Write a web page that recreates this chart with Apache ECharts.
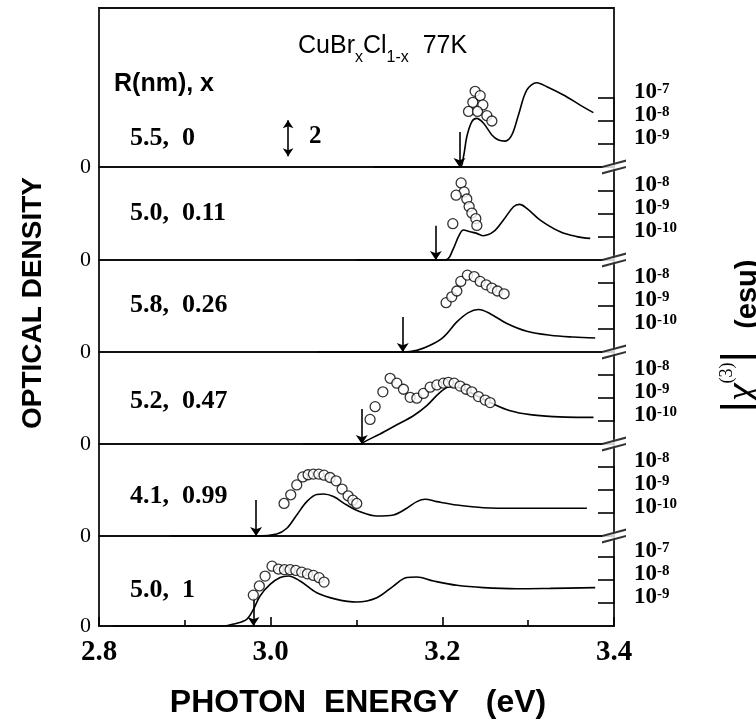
<!DOCTYPE html>
<html><head><meta charset="utf-8">
<script src="https://cdn.jsdelivr.net/npm/echarts@6/dist/echarts.min.js"></script>
<style>html,body{margin:0;padding:0;background:#fff}#c{width:756px;height:723px}</style>
</head><body><div id="c"></div>
<script>
// ---------- DATA ----------
const panelLabels = ['5.5,  0', '5.0,  0.11', '5.8,  0.26', '5.2,  0.47', '4.1,  0.99', '5.0,  1'];
const xTickLabels = [2.8, 3.0, 3.2, 3.4];
// chi(3) axis decades per panel [low exponent, high exponent]
const chiDecades = [[-9, -7], [-10, -8], [-10, -8], [-10, -8], [-10, -8], [-9, -7]];

// optical density curves [photon energy (eV), OD]
const od1 = [[3.120,0],[3.220,0],[3.2246,0.57],[3.2285,1.68],[3.2344,2.52],[3.240,2.70],[3.248,2.43],[3.2577,1.78],[3.2654,1.50],[3.2732,1.44],[3.281,1.78],[3.2887,2.89],[3.2985,4.28],[3.310,4.68],[3.3218,4.46],[3.3411,4.00],[3.3606,3.44],[3.376,3.02]];
const od2 = [[3.100,0],[3.1924,0],[3.2052,0.03],[3.213,0.65],[3.2188,1.30],[3.2246,1.67],[3.2324,1.57],[3.2401,1.48],[3.2479,1.35],[3.2596,1.57],[3.2712,2.22],[3.2829,2.96],[3.2899,3.09],[3.2984,2.87],[3.314,2.22],[3.3373,1.57],[3.3567,1.30],[3.3723,1.20]];
const od3 = [[3.0556,0],[3.1539,0],[3.1703,0.09],[3.1858,0.37],[3.2013,0.83],[3.2169,1.67],[3.2304,2.19],[3.2421,2.36],[3.2557,2.13],[3.2752,1.58],[3.2984,1.15],[3.3256,0.93],[3.3528,0.83],[3.3781,0.78]];
const od4 = [[3.0381,0],[3.1062,0],[3.108,0.09],[3.1275,0.56],[3.147,1.07],[3.1663,1.57],[3.1819,2.13],[3.1974,2.87],[3.2091,3.18],[3.2207,3.11],[3.2363,2.78],[3.2596,2.22],[3.279,1.85],[3.3023,1.63],[3.3295,1.52],[3.3567,1.48],[3.3761,1.48]];
const od5 = [[2.883,0],[2.983,0],[3.0071,0.11],[3.0188,0.43],[3.0304,1.17],[3.0421,1.91],[3.0537,2.31],[3.0615,2.33],[3.0731,2.19],[3.0887,1.72],[3.1042,1.35],[3.1237,1.11],[3.143,1.17],[3.1586,1.54],[3.1703,1.91],[3.18,2.04],[3.1936,1.91],[3.2169,1.72],[3.2479,1.57],[3.2868,1.54],[3.3256,1.54],[3.3684,1.54]];
const od6 = [[2.816,0],[2.945,0],[2.9585,0.13],[2.972,0.37],[2.98,0.93],[2.9876,1.67],[2.9993,2.31],[3.011,2.69],[3.0206,2.78],[3.0343,2.50],[3.0537,1.85],[3.077,1.48],[3.1003,1.33],[3.1237,1.57],[3.143,2.22],[3.1586,2.69],[3.1703,2.72],[3.1897,2.50],[3.2169,2.26],[3.2479,2.13],[3.2868,2.07],[3.3256,2.09],[3.3781,2.13]];

// |chi(3)| (esu) points [photon energy (eV), value]
const chi1 = [[3.2382,1.95e-7],[3.2441,1.26e-7],[3.2355,6.5e-8],[3.2472,5.0e-8],[3.2305,2.6e-8],[3.2410,2.6e-8],[3.2519,1.7e-8],[3.2577,1.0e-8]];
const chi2 = [[3.2219,2.24e-8],[3.2254,9.1e-9],[3.2160,6.6e-9],[3.2285,4.5e-9],[3.2312,2.1e-9],[3.2344,1.1e-9],[3.2390,6.3e-10],[3.2402,3.2e-10],[3.2122,3.8e-10]];
const chi3 = [[3.2044,1.4e-9],[3.2110,2.5e-9],[3.2169,4.5e-9],[3.2215,1.17e-8],[3.2292,2.2e-8],[3.2371,1.9e-8],[3.2441,1.17e-8],[3.2511,8.3e-9],[3.2577,6.0e-9],[3.2642,4.5e-9],[3.2720,3.4e-9]];
const chi4 = [[3.1158,1.17e-10],[3.1217,4.2e-10],[3.1307,1.86e-9],[3.1392,7.2e-9],[3.1470,4.4e-9],[3.1547,2.4e-9],[3.1625,1.07e-9],[3.1703,9.8e-10],[3.1780,1.58e-9],[3.1858,2.95e-9],[3.1936,3.7e-9],[3.2013,4.4e-9],[3.2071,4.8e-9],[3.2138,4.4e-9],[3.2207,3.3e-9],[3.2277,2.4e-9],[3.2344,1.86e-9],[3.2421,1.15e-9],[3.2499,8.1e-10],[3.2557,6.3e-10]];
const chi5 = [[3.0156,2.6e-10],[3.0234,6.2e-10],[3.0304,1.66e-9],[3.0374,3.7e-9],[3.0436,4.6e-9],[3.0498,4.9e-9],[3.0561,4.9e-9],[3.0622,4.4e-9],[3.0692,3.5e-9],[3.0762,2.5e-9],[3.0832,1.1e-9],[3.0902,5.6e-10],[3.0957,3.6e-10],[3.1003,2.6e-10]];
const chi6 = [[2.9798,2.2e-9],[2.9868,5.5e-9],[2.9935,1.48e-8],[3.0016,4.0e-8],[3.0090,3.0e-8],[3.0160,2.8e-8],[3.0226,2.8e-8],[3.0293,2.6e-8],[3.0362,2.2e-8],[3.0428,1.86e-8],[3.0498,1.58e-8],[3.0564,1.26e-8],[3.0622,8.1e-9]];

// downward arrows: energy (eV) and top OD of the arrow
const arrowE = [3.220, 3.1924, 3.1539, 3.1062, 2.983, 2.980];
const arrowTop = [1.95, 1.90, 1.95, 1.95, 2.00, 1.55];
// OD scale bar of 2 units in top panel
const scaleBar = [[3.0203, 0.6], [3.0203, 2.6]];
const scaleLabel = '2';

// ---------- LAYOUT ----------
const odCurves = [od1, od2, od3, od4, od5, od6];
const chiSets = [chi1, chi2, chi3, chi4, chi5, chi6];
const LEFT = 99, RIGHT = 756 - 614;
const panelTop = [8, 167, 260, 352, 444, 536];
const panelBase = [167, 260, 352, 444, 536, 626];
const PX_PER_OD = 18;
const DEC_PX = 23;
const SERIF = '"Liberation Serif","Times New Roman",serif';
const SANS = '"Liberation Sans",Arial,sans-serif';

const grid = [], xAxis = [], yAxis = [], series = [];
for (let i = 0; i < 6; i++) {
  const h = panelBase[i] - panelTop[i];
  grid.push({left: LEFT, right: RIGHT, top: panelTop[i], height: h, show: true,
    borderColor: '#111', borderWidth: 1.8, backgroundColor: 'transparent'});
  grid.push({left: LEFT, right: RIGHT, top: panelBase[i] - DEC_PX * 3, height: DEC_PX * 2, show: false});
  const last = i === 5;
  xAxis.push({type: 'value', gridIndex: 2 * i, min: 2.8, max: 3.4, interval: 0.2, show: last,
    axisLine: {show: false},
    axisTick: {show: true, inside: true, length: 9, lineStyle: {color: '#000', width: 1.6}},
    minorTick: {show: true, splitNumber: 2, length: 6, lineStyle: {color: '#000', width: 1.6}},
    splitLine: {show: false}, minorSplitLine: {show: false},
    axisLabel: {show: true, margin: 12, color: '#000', fontFamily: SERIF, fontWeight: 'bold', fontSize: 29,
      formatter: v => xTickLabels.some(t => Math.abs(t - v) < 1e-6) ? v.toFixed(1) : ''}});
  xAxis.push({type: 'value', gridIndex: 2 * i + 1, min: 2.8, max: 3.4, show: false});
  yAxis.push({type: 'value', gridIndex: 2 * i, min: 0, max: h / PX_PER_OD, position: 'left',
    axisLine: {show: false}, axisTick: {show: false}, splitLine: {show: false},
    axisLabel: {margin: 8, color: '#000', fontFamily: SERIF, fontSize: 22,
      formatter: v => (Math.abs(v) < 1e-9 ? '0' : '')}});
  const d = chiDecades[i];
  // log10 scale of |chi(3)| : exponents on a value axis, one tick per decade
  yAxis.push({type: 'value', gridIndex: 2 * i + 1, position: 'right',
    min: d[0], max: d[1], interval: 1,
    axisLine: {show: true, lineStyle: {color: '#111', width: 1.8}},
    axisTick: {show: true, inside: true, length: 16, lineStyle: {color: '#000', width: 1.6}},
    minorTick: {show: false}, splitLine: {show: false},
    axisLabel: {margin: 20, color: '#000', verticalAlign: 'middle', hideOverlap: false,
      formatter: v => '{b|10}{s|' + Math.round(v) + '}',
      rich: {b: {fontFamily: SERIF, fontWeight: 'bold', fontSize: 23, color: '#000', verticalAlign: 'bottom', lineHeight: 12},
             s: {fontFamily: SERIF, fontWeight: 'bold', fontSize: 15, color: '#000', verticalAlign: 'bottom',
                 lineHeight: 10, padding: [0, 0, 7, 0]}}}});

  series.push({type: 'line', name: 'OD' + (i + 1), xAxisIndex: 2 * i, yAxisIndex: 2 * i,
    data: odCurves[i], smooth: 0.35, symbol: 'none', silent: true, z: 3,
    lineStyle: {color: '#000', width: 1.6},
    markLine: {silent: true, symbol: ['none', 'arrow'], symbolSize: 9, animation: false,
      lineStyle: {color: '#000', width: 1.6, type: 'solid'}, label: {show: false}, emphasis: {disabled: true},
      data: [[{coord: [arrowE[i], arrowTop[i]]}, {coord: [arrowE[i], 0]}]]}});
  series.push({type: 'scatter', name: 'chi' + (i + 1), xAxisIndex: 2 * i + 1, yAxisIndex: 2 * i + 1,
    data: chiSets[i].map(p => [p[0], Math.log10(p[1])]), symbol: 'circle', symbolSize: 10, clip: false, silent: true, z: 5,
    itemStyle: {color: '#fff', borderColor: '#000', borderWidth: 1.3}});
  if (i < 5) {
    series.push({type: 'scatter', xAxisIndex: 2 * i, yAxisIndex: 2 * i, data: [[3.4, 0]], clip: false, silent: true, z: 6,
      symbol: 'path://M0,9 L16,3 L16,11 L0,17 Z', symbolSize: [24, 15], itemStyle: {color: '#fff'}});
    series.push({type: 'scatter', xAxisIndex: 2 * i, yAxisIndex: 2 * i, data: [[3.4, 0]], clip: false, silent: true, z: 7,
      symbol: 'path://M0,9 L16,3 L16,5 L0,11 Z M0,15 L16,9 L16,11 L0,17 Z', symbolSize: [24, 15], itemStyle: {color: '#000'}});
  }
}
series.push({type: 'line', name: 'scale', xAxisIndex: 0, yAxisIndex: 0, data: [], silent: true,
  markLine: {silent: true, symbol: ['arrow', 'arrow'], symbolSize: 8, animation: false,
    lineStyle: {color: '#000', width: 1.6, type: 'solid'}, label: {show: false}, emphasis: {disabled: true},
    data: [[{coord: scaleBar[0]}, {coord: scaleBar[1]}]]}});

const labelY = [139, 214, 306, 402, 497, 591];
const graphic = [];
panelLabels.forEach((t, i) => graphic.push({type: 'text', left: 130, top: labelY[i] - 14,
  style: {text: t, font: 'bold 26px ' + SERIF, fill: '#000'}}));
graphic.push({type: 'text', left: 309, top: 124, style: {text: scaleLabel, font: 'bold 25px ' + SERIF, fill: '#000'}});
graphic.push({type: 'text', left: 114, top: 72, style: {text: 'R(nm), x', font: 'bold 25px ' + SANS, fill: '#000'}});
graphic.push({type: 'text', left: 298, top: 34, style: {
  text: '{n|CuBr}{u|x}{n|Cl}{u|1-x}{n|  77K}',
  rich: {n: {fontFamily: SANS, fontSize: 25, fill: '#000', verticalAlign: 'top', lineHeight: 32},
         u: {fontFamily: SANS, fontSize: 16, fill: '#000', verticalAlign: 'bottom', lineHeight: 32}}}});
graphic.push({type: 'text', x: 33, y: 303, rotation: Math.PI / 2, style: {
  text: 'OPTICAL DENSITY', font: 'bold 28px ' + SANS, fill: '#000', align: 'center', verticalAlign: 'middle'}});
graphic.push({type: 'text', x: 358, y: 703, style: {
  text: 'PHOTON  ENERGY   (eV)', font: 'bold 32px ' + SANS, fill: '#000', align: 'center', verticalAlign: 'middle'}});
graphic.push({type: 'text', x: 740, y: 336, rotation: Math.PI / 2, style: {
  text: '{bar|\u007C}{c|\u03C7}{p|(3)}{bar|\u007C}{sp|     }{e|(esu)}', align: 'center', verticalAlign: 'middle',
  rich: {bar: {fontFamily: SANS, fontSize: 44, fill: '#000', verticalAlign: 'bottom', lineHeight: 44},
         c: {fontFamily: SERIF, fontStyle: 'italic', fontSize: 40, fill: '#000', verticalAlign: 'bottom', lineHeight: 44},
         p: {fontFamily: SERIF, fontSize: 18, fill: '#000', verticalAlign: 'top', lineHeight: 44},
         sp: {fontSize: 16, lineHeight: 44},
         e: {fontFamily: SANS, fontWeight: 'bold', fontSize: 29, fill: '#000', verticalAlign: 'bottom', lineHeight: 44}}}});

const chart = echarts.init(document.getElementById('c'));
chart.setOption({animation: false, backgroundColor: '#fff', grid, xAxis, yAxis, series, graphic});
</script></body></html>
